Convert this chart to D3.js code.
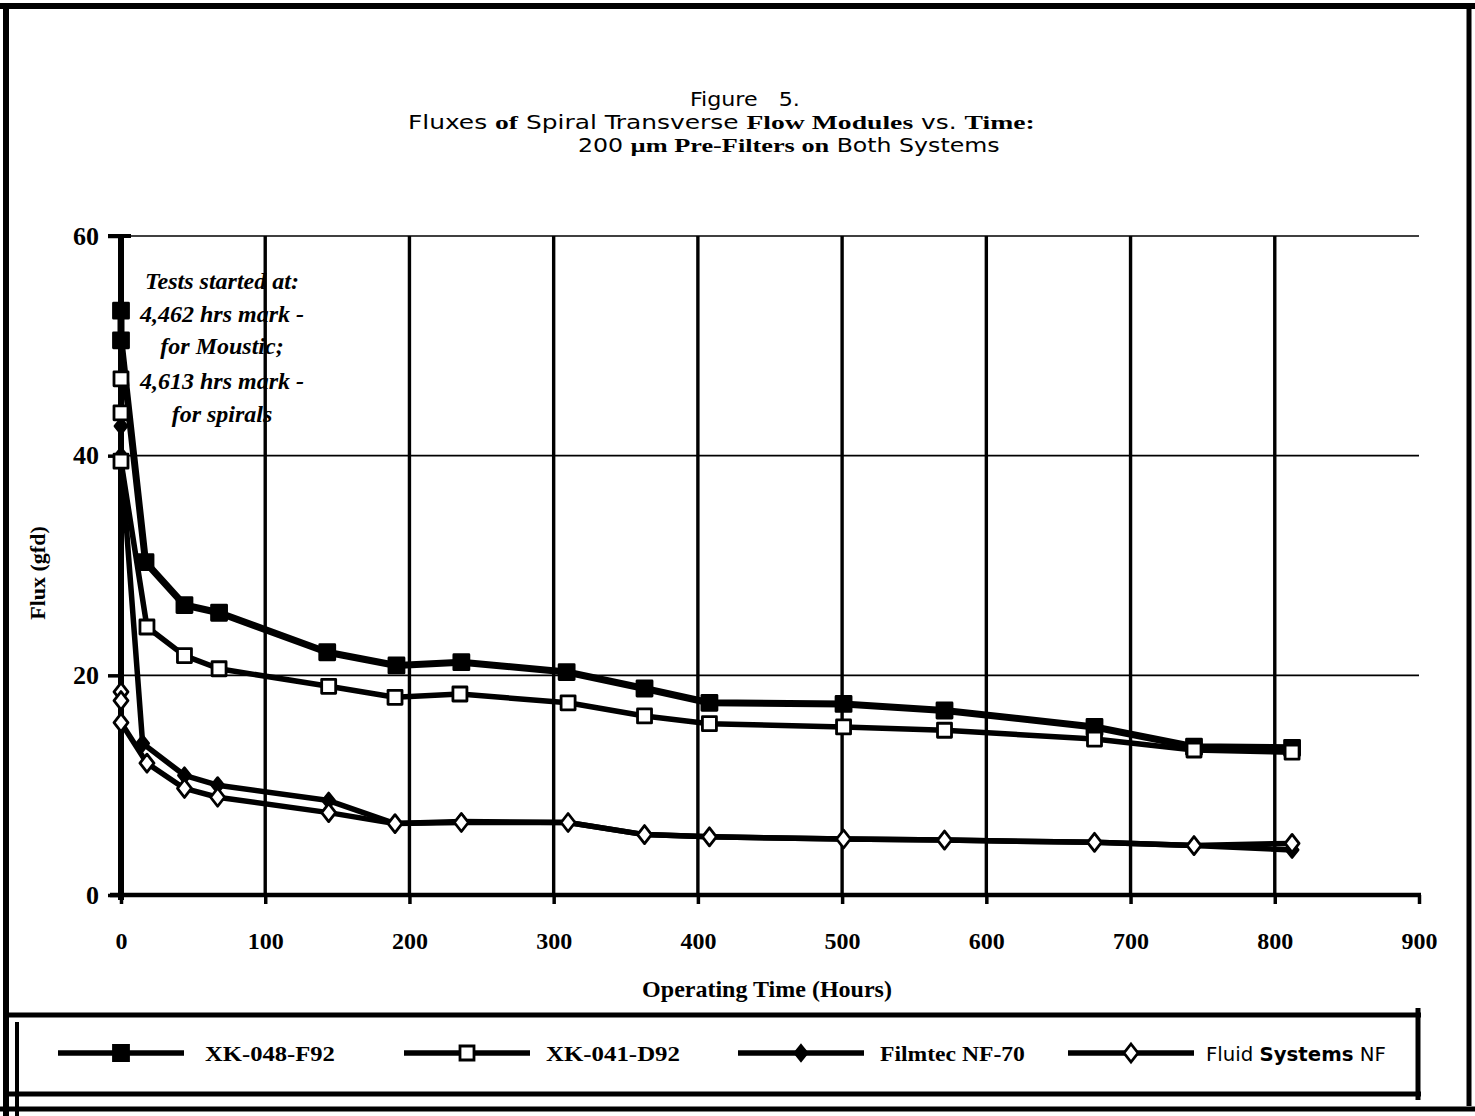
<!DOCTYPE html>
<html>
<head>
<meta charset="utf-8">
<script src="https://cdn.jsdelivr.net/npm/d3@7"></script>
<style>
  body { margin: 0; background: #fff; }
  svg { display: block; }
</style>
</head>
<body>
<script>
// ---- data -------------------------------------------------------------
const seriesNames = ["XK-048-F92", "XK-041-D92", "Filmtec NF-70", "Fluid Systems NF"];

const hoursXK048 = [0, 0, 17, 44, 68, 143, 191, 236, 309, 363, 408, 501, 571, 675, 744, 812];
const fluxXK048  = [53.2, 50.5, 30.3, 26.4, 25.7, 22.1, 20.9, 21.2, 20.3, 18.8, 17.5, 17.4, 16.8, 15.3, 13.5, 13.4];

const hoursXK041 = [0, 0, 0, 18, 44, 68, 144, 190, 235, 310, 363, 408, 501, 571, 675, 744, 812];
const fluxXK041  = [47.0, 43.9, 39.5, 24.4, 21.8, 20.6, 19.0, 18.0, 18.3, 17.5, 16.3, 15.6, 15.3, 15.0, 14.2, 13.2, 13.0];

const hoursFilmtec = [0, 0, 15, 44, 67, 144, 190, 236, 310, 363, 408, 501, 571, 675, 744, 812];
const fluxFilmtec  = [42.7, 40.0, 13.8, 10.9, 10.0, 8.6, 6.5, 6.7, 6.6, 5.5, 5.3, 5.1, 5.0, 4.8, 4.5, 4.1];

const hoursFluid = [0, 0, 0, 18, 44, 67, 144, 190, 236, 310, 363, 408, 501, 571, 675, 744, 812];
const fluxFluid  = [18.5, 17.7, 15.7, 12.0, 9.7, 8.9, 7.5, 6.5, 6.6, 6.6, 5.5, 5.3, 5.1, 5.0, 4.8, 4.5, 4.7];

const xTicks = [0, 100, 200, 300, 400, 500, 600, 700, 800, 900];
const yTicks = [0, 20, 40, 60];

const noteLines = ["Tests started at:", "4,462 hrs mark -", "for Moustic;", "4,613 hrs mark -", "for spirals"];

// ---- layout -----------------------------------------------------------
const W = 1475, H = 1116;
const SANS = "'Liberation Sans Narrow','Arial Narrow','DejaVu Sans Condensed',sans-serif";
const SERIF = "'Liberation Serif','Times New Roman',serif";

const svg = d3.select("body").append("svg")
  .attr("width", W).attr("height", H)
  .attr("viewBox", `0 0 ${W} ${H}`);

svg.append("rect").attr("width", W).attr("height", H).attr("fill", "#fff");

// squeeze or stretch a text horizontally so it spans [x0, x0 + width]
function fitSpan(text, x0, width) {
  const box = text.node().getBBox();
  const k = width / box.width;
  text.attr("transform", `translate(${x0},0) scale(${k},1) translate(${-box.x},0)`);
}

const x = d3.scaleLinear().domain([0, 900]).range([121, 1419]);
const y = d3.scaleLinear().domain([0, 60]).range([895, 236]);

// ---- outer frame and legend box ---------------------------------------
const frame = svg.append("g").attr("stroke", "#000").attr("fill", "none");
frame.append("line").attr("x1", 0).attr("x2", W).attr("y1", 6).attr("y2", 6).attr("stroke-width", 6);
frame.append("line").attr("x1", 6).attr("x2", 6).attr("y1", 3).attr("y2", H).attr("stroke-width", 6);
frame.append("line").attr("x1", 1469).attr("x2", 1469).attr("y1", 3).attr("y2", 1106).attr("stroke-width", 5);
frame.append("line").attr("x1", 0).attr("x2", W).attr("y1", 1109).attr("y2", 1109).attr("stroke-width", 5);
frame.append("line").attr("x1", 6).attr("x2", 1421).attr("y1", 1015).attr("y2", 1015).attr("stroke-width", 5);
frame.append("line").attr("x1", 6).attr("x2", 1421).attr("y1", 1094).attr("y2", 1094).attr("stroke-width", 5);
frame.append("line").attr("x1", 1418).attr("x2", 1418).attr("y1", 1008).attr("y2", 1100).attr("stroke-width", 5);
frame.append("line").attr("x1", 17).attr("x2", 17).attr("y1", 1022).attr("y2", H).attr("stroke-width", 4);

// ---- title ------------------------------------------------------------
const title = svg.append("g").attr("fill", "#000");
const t1 = title.append("text").attr("y", 106)
  .attr("font-family", SANS).attr("font-size", 19)
  .attr("xml:space", "preserve").text("Figure   5.");
fitSpan(t1, 690, 110);

const t2 = title.append("text").attr("y", 129).attr("font-size", 19)
  .attr("xml:space", "preserve");
[["Fluxes ", false], ["of", true], [" Spiral Transverse ", false], ["Flow Modules", true],
 [" vs. ", false], ["Time:", true]].forEach(([s, b]) => {
  t2.append("tspan").text(s)
    .attr("font-family", b ? SERIF : SANS)
    .attr("font-weight", b ? "bold" : "normal");
});
fitSpan(t2, 408, 627);

const t3 = title.append("text").attr("y", 152).attr("font-size", 19)
  .attr("xml:space", "preserve");
[["200 ", false], ["\u00b5m Pre-Filters on", true], [" Both Systems", false]].forEach(([s, b]) => {
  t3.append("tspan").text(s)
    .attr("font-family", b ? SERIF : SANS)
    .attr("font-weight", b ? "bold" : "normal");
});
fitSpan(t3, 578, 422);

// ---- grid -------------------------------------------------------------
const grid = svg.append("g").attr("stroke", "#000");
grid.selectAll("line.h").data(yTicks.filter(d => d > 0)).join("line")
  .attr("class", "h")
  .attr("x1", x(0)).attr("x2", x(900))
  .attr("y1", d => y(d)).attr("y2", d => y(d))
  .attr("stroke-width", 1.6);
grid.selectAll("line.v").data(xTicks.filter(d => d > 0 && d < 900)).join("line")
  .attr("class", "v")
  .attr("x1", d => x(d)).attr("x2", d => x(d))
  .attr("y1", y(60)).attr("y2", y(0))
  .attr("stroke-width", 3.4);

// ---- annotation -------------------------------------------------------
svg.append("g").selectAll("text").data(noteLines).join("text")
  .attr("x", 222).attr("y", (d, i) => [289, 322, 354, 389, 422][i])
  .attr("text-anchor", "middle")
  .attr("font-family", SERIF).attr("font-weight", "bold").attr("font-style", "italic")
  .attr("font-size", 24)
  .text(d => d);

// ---- axes -------------------------------------------------------------
const xAxis = svg.append("g").attr("transform", `translate(0,${y(0)})`)
  .call(d3.axisBottom(x).tickValues(xTicks).tickSize(9).tickPadding(28).tickFormat(d3.format("d")));
xAxis.select(".domain").remove();
xAxis.selectAll(".tick line").attr("stroke", "#000").attr("stroke-width", 3.5);
xAxis.selectAll(".tick text").attr("fill", "#000")
  .attr("font-family", SERIF).attr("font-weight", "bold").attr("font-size", 24);
xAxis.append("line").attr("x1", 110).attr("x2", x(900) + 2).attr("y1", 0).attr("y2", 0)
  .attr("stroke", "#000").attr("stroke-width", 4.5);

const yAxis = svg.append("g").attr("transform", `translate(${x(0)},0)`)
  .call(d3.axisLeft(y).tickValues(yTicks).tickSize(13).tickPadding(9));
yAxis.select(".domain").remove();
yAxis.selectAll(".tick line").attr("stroke", "#000").attr("stroke-width", 3.5);
yAxis.selectAll(".tick text").attr("fill", "#000")
  .attr("font-family", SERIF).attr("font-weight", "bold").attr("font-size", 26);
yAxis.append("line").attr("x1", 0).attr("x2", 0).attr("y1", y(60)).attr("y2", y(0) + 5)
  .attr("stroke", "#000").attr("stroke-width", 6);
yAxis.append("line").attr("x1", -13).attr("x2", 10).attr("y1", y(60)).attr("y2", y(60))
  .attr("stroke", "#000").attr("stroke-width", 4);

// axis titles
svg.append("text").attr("x", 767).attr("y", 997).attr("text-anchor", "middle")
  .attr("font-family", SERIF).attr("font-weight", "bold").attr("font-size", 24)
  .text("Operating Time (Hours)");
svg.append("text")
  .attr("transform", "translate(45,573) rotate(-90)")
  .attr("text-anchor", "middle")
  .attr("font-family", SERIF).attr("font-weight", "bold").attr("font-size", 22)
  .text("Flux (gfd)");

// ---- series -----------------------------------------------------------
const squarePath = s => `M${-s},${-s}H${s}V${s}H${-s}Z`;
const diamondPath = (w, h) => `M0,${-h}L${w},0L0,${h}L${-w},0Z`;

const series = [
  { name: seriesNames[2], hours: hoursFilmtec, flux: fluxFilmtec, shape: diamondPath(6, 7.5), fill: "#000", sw: 5.5 },
  { name: seriesNames[3], hours: hoursFluid,   flux: fluxFluid,   shape: diamondPath(7, 9), fill: "#fff", sw: 5.5 },
  { name: seriesNames[0], hours: hoursXK048,   flux: fluxXK048,   shape: squarePath(7.5), fill: "#000", sw: 7 },
  { name: seriesNames[1], hours: hoursXK041,   flux: fluxXK041,   shape: squarePath(7), fill: "#fff", sw: 5.5 }
];

const line = d3.line().x(d => x(d[0])).y(d => y(d[1]));

const plot = svg.append("g");
series.forEach(s => {
  const pts = s.hours.map((h, i) => [h, s.flux[i]]);
  const g = plot.append("g");
  g.append("path").datum(pts).attr("d", line)
    .attr("fill", "none").attr("stroke", "#000")
    .attr("stroke-width", s.sw).attr("stroke-linejoin", "round");
  g.selectAll("path.m").data(pts).join("path")
    .attr("class", "m")
    .attr("d", s.shape)
    .attr("transform", d => `translate(${x(d[0])},${y(d[1])})`)
    .attr("fill", s.fill).attr("stroke", "#000").attr("stroke-width", 2.8)
    .attr("stroke-linejoin", "round");
});

// ---- legend -----------------------------------------------------------
const legendOrder = [2, 3, 0, 1].map(i => series[i]); // XK-048, XK-041, Filmtec, Fluid
const legendX = [58, 404, 738, 1068];
const legendTextX = [205, 546, 880, 1206];
const legendTextW = [130, 134, 145, 180];
const legend = svg.append("g").attr("transform", "translate(0,1053)");
legendOrder.forEach((s, i) => {
  const g = legend.append("g");
  g.append("line").attr("x1", legendX[i]).attr("x2", legendX[i] + 126).attr("y1", 0).attr("y2", 0)
    .attr("stroke", "#000").attr("stroke-width", 5.5);
  g.append("path").attr("d", s.shape).attr("transform", `translate(${legendX[i] + 63},0)`)
    .attr("fill", s.fill).attr("stroke", "#000").attr("stroke-width", 2.8);
  const t = g.append("text").attr("y", 8).attr("font-size", 22)
    .attr("xml:space", "preserve");
  if (s.name === "Fluid Systems NF") {
    t.attr("font-size", 20);
    [["Fluid ", "normal"], ["Systems", "bold"], [" NF", "normal"]].forEach(([p, w]) => {
      t.append("tspan").text(p).attr("font-family", SANS).attr("font-weight", w);
    });
  } else {
    t.attr("font-family", SERIF).attr("font-weight", "bold").text(s.name);
  }
  fitSpan(t, legendTextX[i], legendTextW[i]);
});
</script>
</body>
</html>
